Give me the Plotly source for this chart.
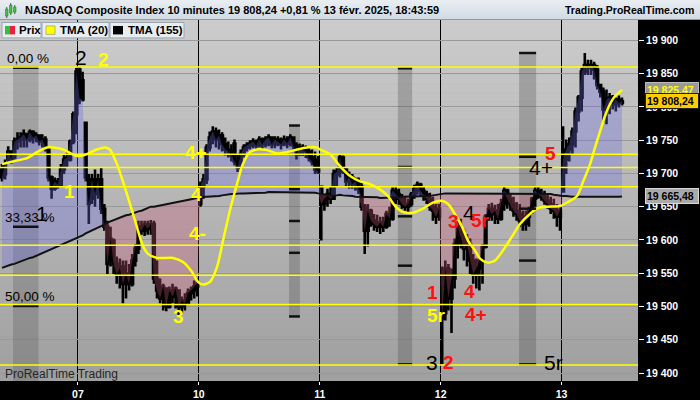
import plotly.graph_objects as go

# ---------------- data ----------------
days = ["07", "10", "11", "12", "13"]
day_first_bar = [25, 64, 103, 142, 181]

open_ = [
19706,19699,19721,19733,19724,19748,19751,19754,19759,19751,
19762,19754,19757,19748,19751,19736,19694,19677,19688,19683,
19706,19721,19721,19748,19789,19856,19840,19776,19691,19662,
19691,19669,19691,19647,19620,19569,19599,19564,19549,19560,
19534,19549,19534,19569,19587,19620,19614,19623,19617,19624,
19542,19524,19512,19527,19500,19524,19515,19524,19500,19509,
19505,19520,19524,19530,19654,19680,19691,19739,19754,19763,
19751,19757,19744,19736,19733,19745,19718,19709,19729,19739,
19742,19745,19748,19742,19751,19744,19751,19754,19744,19751,
19748,19744,19751,19745,19754,19742,19729,19739,19736,19733,
19724,19721,19706,19680,19654,19662,19669,19662,19699,19703,
19724,19706,19688,19694,19684,19688,19680,19650,19614,19644,
19629,19624,19620,19626,19620,19639,19632,19674,19669,19662,
19654,19650,19654,19668,19677,19683,19674,19668,19662,19650,
19644,19635,19549,19490,19557,19512,19542,19594,19620,19605,
19587,19594,19569,19549,19557,19569,19590,19635,19647,19639,
19644,19632,19654,19674,19662,19654,19644,19639,19629,19624,
19635,19644,19662,19674,19669,19665,19659,19654,19647,19644,
19635,19673,19721,19736,19744,19763,19793,19814,19853,19863,
19859,19863,19856,19833,19823,19796,19811,19814,19804,19811,
19806]

high = [
19714,19721,19741,19733,19754,19762,19762,19766,19759,19766,
19765,19762,19759,19759,19756,19739,19697,19694,19693,19714,
19729,19732,19751,19793,19859,19860,19853,19778,19699,19699,
19706,19699,19709,19654,19629,19620,19602,19575,19572,19569,
19569,19564,19579,19594,19629,19629,19629,19629,19630,19629,
19569,19542,19534,19527,19530,19534,19530,19524,19515,19520,
19527,19530,19539,19542,19688,19699,19744,19763,19771,19769,
19766,19762,19754,19748,19744,19751,19729,19736,19744,19747,
19750,19753,19751,19756,19754,19756,19759,19754,19756,19756,
19754,19757,19756,19759,19754,19747,19745,19744,19742,19739,
19736,19733,19726,19681,19669,19677,19680,19706,19709,19729,
19727,19709,19703,19699,19694,19694,19688,19654,19654,19647,
19639,19638,19635,19635,19644,19650,19680,19680,19677,19669,
19665,19662,19672,19683,19688,19686,19680,19674,19671,19665,
19654,19654,19560,19569,19564,19557,19602,19629,19632,19617,
19609,19602,19579,19572,19575,19594,19639,19654,19656,19653,
19654,19662,19680,19677,19669,19665,19657,19654,19644,19644,
19650,19665,19680,19680,19677,19674,19669,19665,19662,19654,
19650,19771,19751,19754,19769,19799,19818,19859,19881,19871,
19871,19868,19863,19833,19829,19826,19821,19818,19814,19817,
19814]

low = [
19688,19691,19717,19714,19721,19736,19739,19739,19739,19747,
19745,19747,19742,19739,19733,19688,19662,19674,19677,19680,
19699,19709,19718,19744,19759,19804,19808,19688,19624,19654,
19650,19662,19639,19614,19549,19560,19549,19534,19527,19505,
19512,19524,19530,19560,19579,19608,19606,19608,19608,19534,
19512,19505,19494,19493,19497,19505,19497,19487,19490,19494,
19503,19509,19512,19515,19650,19662,19684,19733,19744,19739,
19736,19733,19727,19724,19718,19712,19702,19706,19724,19733,
19736,19738,19736,19739,19736,19739,19741,19738,19738,19741,
19736,19741,19738,19741,19736,19721,19726,19726,19723,19718,
19712,19699,19699,19599,19644,19650,19654,19662,19680,19694,
19699,19680,19677,19677,19674,19669,19644,19579,19590,19620,
19614,19612,19609,19612,19617,19620,19629,19654,19653,19647,
19644,19642,19650,19662,19668,19665,19659,19654,19644,19629,
19624,19629,19413,19479,19494,19460,19527,19572,19587,19569,
19560,19549,19534,19527,19524,19534,19587,19629,19629,19624,
19624,19629,19644,19647,19644,19635,19629,19620,19614,19614,
19620,19639,19650,19662,19659,19653,19647,19639,19632,19620,
19614,19672,19699,19718,19729,19739,19778,19793,19848,19848,
19848,19841,19826,19814,19777,19774,19789,19796,19793,19799,
19802]

close = [
19694,19714,19733,19721,19748,19751,19754,19759,19751,19762,
19754,19757,19748,19751,19739,19694,19677,19688,19683,19706,
19721,19724,19748,19789,19853,19813,19811,19694,19654,19691,
19669,19691,19647,19620,19564,19602,19564,19549,19557,19534,
19549,19534,19569,19587,19620,19614,19623,19617,19624,19542,
19524,19512,19530,19500,19524,19515,19527,19500,19509,19505,
19520,19524,19530,19534,19680,19691,19739,19754,19763,19751,
19757,19744,19736,19733,19727,19718,19709,19729,19739,19742,
19745,19748,19742,19751,19744,19751,19754,19744,19751,19748,
19744,19751,19745,19754,19742,19729,19739,19736,19733,19724,
19718,19706,19703,19654,19662,19669,19662,19699,19703,19724,
19706,19688,19694,19684,19688,19677,19650,19614,19644,19629,
19624,19620,19626,19620,19639,19632,19674,19669,19662,19654,
19650,19654,19668,19677,19683,19674,19668,19662,19650,19644,
19635,19647,19482,19557,19512,19542,19594,19620,19605,19587,
19594,19569,19549,19557,19569,19590,19635,19647,19639,19644,
19632,19654,19674,19662,19654,19644,19639,19629,19624,19635,
19644,19662,19674,19669,19665,19659,19654,19647,19644,19635,
19644,19721,19736,19744,19763,19793,19814,19853,19863,19859,
19863,19856,19833,19823,19796,19811,19814,19804,19811,19806,
19808.24]

tma155 = [
19558,19560,19561,19563,19564,19566,19568,19570,19571,19573,
19574,19576,19578,19580,19582,19584,19586,19588,19590,19592,
19594,19596,19598,19600,19602,19605,19607,19610,19612,19614,
19616,19619,19621,19623,19626,19628,19630,19632,19634,19635,
19637,19638,19640,19641,19643,19644,19646,19648,19650,19650,
19651,19652,19653,19654,19655,19656,19657,19658,19659,19660,
19661,19662,19663,19664,19665,19665,19665,19665,19666,19666,
19666,19667,19668,19668,19669,19669,19670,19670,19670,19670,
19670,19670,19670,19670,19671,19671,19672,19672,19672,19672,
19672,19672,19672,19672,19672,19672,19672,19672,19672,19672,
19672,19671,19670,19669,19668,19667,19666,19666,19667,19668,
19667,19667,19666,19666,19665,19665,19665,19665,19665,19664,
19664,19664,19663,19663,19663,19663,19663,19663,19664,19665,
19665,19665,19665,19665,19665,19665,19665,19665,19666,19667,
19668,19668,19669,19670,19670,19670,19670,19670,19670,19670,
19670,19670,19670,19670,19670,19670,19670,19670,19670,19670,
19670,19670,19670,19670,19670,19670,19670,19670,19670,19670,
19670,19670,19670,19669,19669,19669,19669,19669,19668,19667,
19666,19666,19666,19665,19665,19665,19665,19664,19664,19664,
19664,19664,19665,19665,19665,19665,19665,19665,19665,19665,
19665.48]

tma20_bar = [0, 3.5, 8.1, 11.3, 14.5, 16.5, 19.7, 22.6, 24.5, 27.4, 30.6, 33.2, 34.8,
             37.1, 39, 41.3, 43.5, 45.2, 47.1, 50, 55.2, 58.4, 61.3, 63.2, 64.8, 67.1,
             69.4, 71.3, 73.5, 75.8, 77.7, 80, 82.3, 85.5, 88.7, 91.9, 95.2, 98.4, 101.6,
             102.6, 105.8, 109, 112.3, 115.5, 118.7, 121.9, 124.5, 126.8, 129.4, 132.6,
             135.8, 139, 141.9, 143.9, 146.1, 148.4, 150.3, 152.6, 154.2, 156.5, 159,
             161.6, 164.5, 167.1, 170.3, 172.9, 176.1, 180, 182.6, 185.5, 187.4, 189.7,
             191.3, 192.9, 194.5, 196.1, 197.7, 200]
tma20_val = [19714, 19718, 19723, 19732, 19739, 19739, 19736, 19729, 19726, 19729, 19736,
             19739, 19736, 19714, 19688, 19654, 19620, 19594, 19579, 19573, 19573, 19567,
             19552, 19537, 19533, 19537, 19560, 19599, 19644, 19684, 19714, 19732, 19736,
             19735, 19730, 19732, 19736, 19739, 19739, 19736, 19729, 19711, 19696, 19688,
             19684, 19676, 19666, 19651, 19642, 19641, 19647, 19656, 19659, 19654, 19639,
             19620, 19599, 19584, 19572, 19566, 19569, 19584, 19605, 19624, 19639, 19648,
             19650, 19651, 19657, 19666, 19687, 19714, 19739, 19763, 19786, 19804, 19816,
             19825.47]

levels = [19860, 19729, 19709, 19680, 19592, 19547, 19503, 19412]
fib_levels = [19860, 19621, 19502]
fib_labels = ["0,00 %", "33,33 %", "50,00 %"]
# range boxes: (first bar, last bar, top price, bottom price)
range_boxes = [(92.6, 96.1, 19772, 19485), (127.7, 132.3, 19858, 19413), (166.8, 172.3, 19881, 19413)]
ytick_vals = [19400, 19450, 19500, 19550, 19600, 19650, 19700, 19750, 19800, 19850, 19900]
ytick_text = ["19 400", "19 450", "19 500", "19 550", "19 600", "19 650", "19 700", "19 750",
              "19 800", "19 850", "19 900"]
last_tma20 = "19 825,47"
last_price = "19 808,24"
last_tma155 = "19 665,48"

# ---------------- geometry helpers ----------------
W, H = 700, 400
ML, MR, MT, MB = 0, 62, 20, 17
PW, PH = W - ML - MR, H - MT - MB
def bx(px):  # page px -> bar index
    return (px - 2) / 3.1
def pyv(y):  # page px -> price
    return 19960.5 - 1.4948 * y
def xp(px):  # page px -> paper x
    return px / PW
def yp(y):   # page px -> paper y
    return (H - MB - y) / PH

xr = [bx(0), bx(PW)]
yr = [pyv(H - MB), pyv(MT)]
FONT = "Liberation Sans, Arial, sans-serif"

bars = list(range(len(close)))
upper = [max(c, t) for c, t in zip(close, tma155)]
lower = [min(c, t) for c, t in zip(close, tma155)]

fig = go.Figure()
fig.add_trace(go.Scatter(x=bars, y=tma155, mode="lines", line=dict(width=0), hoverinfo="skip"))
fig.add_trace(go.Scatter(x=bars, y=upper, mode="lines", line=dict(width=0), fill="tonexty",
                         fillcolor="rgba(110,110,230,0.32)", hoverinfo="skip"))
fig.add_trace(go.Scatter(x=bars, y=tma155, mode="lines", line=dict(width=0), hoverinfo="skip"))
fig.add_trace(go.Scatter(x=bars, y=lower, mode="lines", line=dict(width=0), fill="tonexty",
                         fillcolor="rgba(200,90,120,0.32)", hoverinfo="skip"))
fig.add_trace(go.Candlestick(
    x=bars, open=open_, high=high, low=low, close=close, whiskerwidth=0,
    increasing=dict(line=dict(color="black", width=2.6), fillcolor="#2ed82e"),
    decreasing=dict(line=dict(color="black", width=2.6), fillcolor="#f0203c")))
fig.add_trace(go.Scatter(x=bars, y=tma155, mode="lines", line=dict(color="#111111", width=2)))
fig.add_trace(go.Scatter(x=tma20_bar, y=tma20_val, mode="lines",
                         line=dict(color="#ffff00", width=2.5, shape="spline", smoothing=0.7)))

shapes = []
# plot background gradient
n = 40
for k in range(n):
    y0 = MT + k * PH / n
    y1 = MT + (k + 1) * PH / n
    g = int(round(203 - (203 - 160) * k / (n - 1)))
    shapes.append(dict(type="rect", xref="paper", yref="paper", x0=0, x1=1, y0=yp(y1), y1=yp(y0),
                       fillcolor=f"rgb({g},{g},{g})", line=dict(width=0), layer="below"))
# title bar gradient
for k in range(10):
    y0, y1 = 2 * k, 2 * k + 2
    r = int(232 - 2.4 * k); gg = int(237 - 2.0 * k); b = int(242 - 1.6 * k)
    shapes.append(dict(type="rect", xref="paper", yref="paper", x0=xp(0), x1=xp(W), y0=yp(y1), y1=yp(y0),
                       fillcolor=f"rgb({r},{gg},{b})", line=dict(width=0), layer="above"))
shapes.append(dict(type="line", xref="paper", yref="paper", x0=xp(0), x1=xp(W), y0=yp(19.5), y1=yp(19.5),
                   line=dict(color="#8e9aa6", width=1), layer="above"))
# title icon
for (a, b_, t, u) in [(5.5, 8, 9, 16), (9.5, 12, 5, 13), (13.5, 16, 7, 12)]:
    shapes.append(dict(type="line", xref="paper", yref="paper", x0=xp((a + b_) / 2), x1=xp((a + b_) / 2),
                       y0=yp(u + 2), y1=yp(t - 2), line=dict(color="#2a6a2a", width=1), layer="above"))
    shapes.append(dict(type="rect", xref="paper", yref="paper", x0=xp(a), x1=xp(b_), y0=yp(u), y1=yp(t),
                       fillcolor="#3cc83c", line=dict(color="#2a6a2a", width=0.5), layer="above"))

# fib band on the left
shapes.append(dict(type="rect", xref="x", yref="y", x0=bx(13), x1=bx(38.5), y0=yr[0], y1=fib_levels[0],
                   fillcolor="rgba(70,70,70,0.25)", line=dict(width=0), layer="between"))
for lv in fib_levels:
    shapes.append(dict(type="line", xref="x", yref="y", x0=bx(13), x1=bx(38.5), y0=lv - 1.2, y1=lv - 1.2,
                       line=dict(color="#111111", width=2.5), layer="above"))
# range boxes
for (b0, b1, top, bot) in range_boxes:
    shapes.append(dict(type="rect", xref="x", yref="y", x0=b0, x1=b1, y0=bot, y1=top,
                       fillcolor="rgba(70,70,70,0.28)", line=dict(width=0), layer="between"))
    for f in [0, 1 / 3, 1 / 2, 2 / 3, 1]:
        v = top - f * (top - bot)
        shapes.append(dict(type="line", xref="x", yref="y", x0=b0, x1=b1, y0=v, y1=v,
                           line=dict(color="#111111", width=2.5), layer="above"))
# yellow levels
for lv in levels:
    shapes.append(dict(type="line", xref="paper", yref="y", x0=0, x1=1, y0=lv, y1=lv,
                       line=dict(color="#ffff00", width=1.5), layer="above"))
# legend boxes
for (a, b_) in [(2, 41), (42, 109), (110, 184)]:
    shapes.append(dict(type="rect", xref="paper", yref="paper", x0=xp(a), x1=xp(b_), y0=yp(38), y1=yp(22.5),
                       fillcolor="#e8edf2", line=dict(color="#9aa6b2", width=1), layer="above"))
shapes.append(dict(type="rect", xref="paper", yref="paper", x0=xp(5), x1=xp(10), y0=yp(34.5), y1=yp(26),
                   fillcolor="#30c040", line=dict(width=0), layer="above"))
shapes.append(dict(type="rect", xref="paper", yref="paper", x0=xp(10), x1=xp(15), y0=yp(34.5), y1=yp(26),
                   fillcolor="#e8203c", line=dict(width=0), layer="above"))
shapes.append(dict(type="rect", xref="paper", yref="paper", x0=xp(46), x1=xp(55), y0=yp(34.5), y1=yp(26),
                   fillcolor="#ffff00", line=dict(color="#777", width=0.5), layer="above"))
shapes.append(dict(type="rect", xref="paper", yref="paper", x0=xp(113), x1=xp(123), y0=yp(34.5), y1=yp(26),
                   fillcolor="#000000", line=dict(width=0), layer="above"))
# right-axis value tags
tags = [(last_tma20, tma20_val[-1], "#999999", "#ffff00", "#bbbbbb"),
        (last_price, close[-1], "#ffcc00", "#000000", "#222222"),
        (last_tma155, tma155[-1], "#a9a9a9", "#000000", "#d8d8d8")]
annotations = []
for (txt, val, bg, fg, bd) in tags:
    annotations.append(dict(xref="paper", yref="y", x=xp(645), y=val, text=f"<b>{txt}</b>", showarrow=False,
                            xanchor="left", yanchor="middle", bgcolor=bg, bordercolor=bd, borderwidth=1,
                            borderpad=1, width=50, align="left",
                            font=dict(family=FONT, size=10.5, color=fg)))

# title texts
annotations.append(dict(xref="paper", yref="paper", x=xp(23), y=yp(10), xanchor="left", yanchor="middle",
                        text="<b>NASDAQ Composite Index 10 minutes 19 808,24 +0,81 % 13 févr. 2025, 18:43:59</b>",
                        showarrow=False, font=dict(family=FONT, size=11, color="#000")))
annotations.append(dict(xref="paper", yref="paper", x=xp(696), y=yp(10), xanchor="right", yanchor="middle",
                        text="<b>Trading.ProRealTime.com</b>", showarrow=False,
                        font=dict(family=FONT, size=10.5, color="#000")))
for (txt, x0) in [("Prix", 17), ("TMA (20)", 58), ("TMA (155)", 126)]:
    annotations.append(dict(xref="paper", yref="paper", x=xp(x0), y=yp(30.5), xanchor="left", yanchor="middle",
                            text=f"<b>{txt}</b>", showarrow=False, font=dict(family=FONT, size=11.5, color="#000")))
# fib labels
for (txt, lv, x0) in zip(fib_labels, fib_levels, [5, 3, 3]):
    annotations.append(dict(xref="paper", yref="y", x=xp(x0), y=lv + 13, xanchor="left", yanchor="middle",
                            text=txt, showarrow=False, font=dict(family=FONT, size=13.5, color="#000000")))
annotations.append(dict(xref="paper", yref="paper", x=xp(3), y=yp(376), xanchor="left", yanchor="middle",
                        text="ProRealTime Trading", showarrow=False, font=dict(family=FONT, size=12, color="#262626")))

# wave labels: (text, colour, px, py, bold)
wave_labels = [
    ("2", "#000000", 80.5, 58, False), ("2", "#ffff00", 103, 60, True), ("1", "#ffff00", 69, 192, True),
    ("1", "#000000", 42, 215, False), ("4+", "#ffff00", 196, 153, True), ("4", "#ffff00", 196, 195, True),
    ("4-", "#ffff00", 197, 235, True), ("3", "#ffff00", 178, 318, True), ("5r", "#ffff00", 436, 317, True),
    ("1", "#ff1010", 432, 294, True), ("3", "#000000", 432, 364, False), ("2", "#ff1010", 448, 364, True),
    ("3", "#ff1010", 453, 223, True), ("4", "#000000", 469, 214, False), ("5r", "#ff1010", 480, 222, True),
    ("4", "#ff1010", 469, 293, True), ("4+", "#ff1010", 476, 316, True), ("5", "#ff1010", 550, 154, True),
    ("4+", "#000000", 541, 168, False), ("5r", "#000000", 553, 364, False)]
for (txt, col, px, pyy, bold) in wave_labels:
    annotations.append(dict(xref="paper", yref="paper", x=xp(px), y=yp(pyy), xanchor="center", yanchor="middle",
                            text=f"<b>{txt}</b>" if bold else txt, showarrow=False,
                            font=dict(family=FONT, size=19 if bold else 21, color=col)))

sep = [b - 0.5 for b in day_first_bar]
tickfont = dict(family=FONT, size=10.5, color="white", weight="bold")
fig.update_layout(
    width=W, height=H, autosize=False, margin=dict(l=ML, r=MR, t=MT, b=MB, pad=0),
    paper_bgcolor="black", plot_bgcolor="#b4b4b4", showlegend=False, hovermode=False,
    shapes=shapes, annotations=annotations, boxgap=0.2,
    xaxis=dict(range=xr, tickvals=sep, ticktext=days, showgrid=True, gridcolor="#000000", gridwidth=1,
               zeroline=False, ticks="outside", ticklen=3, tickcolor="white", tickfont=tickfont,
               rangeslider=dict(visible=False), showline=False, fixedrange=True),
    yaxis=dict(range=yr, side="right", tickvals=ytick_vals, ticktext=ytick_text, showgrid=True,
               gridcolor="#999999", gridwidth=1, zeroline=False, ticks="outside", ticklen=5,
               tickcolor="white", tickfont=tickfont, showline=False, fixedrange=True),
)
fig.write_html("out.html", config={"displayModeBar": False},
               post_script="document.body.style.margin='0';document.body.style.padding='0';")
